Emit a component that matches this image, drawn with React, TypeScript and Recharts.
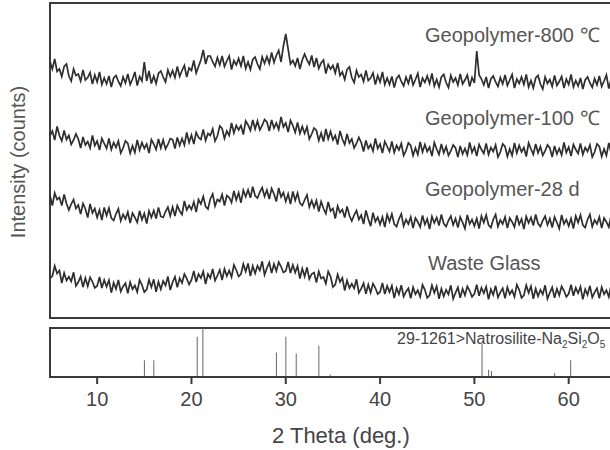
import React from "react";
import { LineChart, Line, BarChart, Bar, XAxis, YAxis, ReferenceArea } from "recharts";

// measured intensity, one value every 0.25 deg from 5 to 65 deg (stacked as plotted)
const geo800 = [
  2565, 2490, 2590, 2465, 2490, 2415, 2515, 2540, 2420, 2370, 2490, 2425, 2440, 2370, 2480, 2380,
  2405, 2455, 2340, 2430, 2360, 2460, 2335, 2400, 2340, 2420, 2310, 2400, 2425, 2365, 2320, 2410,
  2350, 2440, 2335, 2390, 2460, 2325, 2415, 2370, 2560, 2370, 2470, 2345, 2420, 2345, 2445, 2470,
  2410, 2360, 2480, 2415, 2475, 2405, 2515, 2415, 2475, 2525, 2410, 2500, 2475, 2575, 2450, 2515,
  2580, 2680, 2540, 2620, 2620, 2560, 2515, 2605, 2530, 2620, 2515, 2570, 2620, 2485, 2575, 2530,
  2595, 2520, 2620, 2495, 2560, 2485, 2585, 2610, 2540, 2490, 2610, 2545, 2615, 2545, 2655, 2555,
  2625, 2675, 2560, 2720, 2840, 2690, 2540, 2575, 2520, 2600, 2490, 2580, 2640, 2580, 2535, 2625,
  2510, 2600, 2495, 2550, 2580, 2445, 2535, 2490, 2525, 2450, 2550, 2425, 2460, 2385, 2485, 2510,
  2405, 2355, 2475, 2410, 2435, 2365, 2475, 2375, 2400, 2450, 2335, 2425, 2360, 2460, 2335, 2400,
  2335, 2415, 2305, 2395, 2425, 2365, 2320, 2410, 2345, 2435, 2330, 2385, 2445, 2310, 2400, 2355,
  2420, 2345, 2445, 2320, 2385, 2310, 2410, 2435, 2355, 2305, 2425, 2360, 2400, 2330, 2440, 2340,
  2380, 2430, 2315, 2405, 2350, 2670, 2430, 2390, 2330, 2410, 2300, 2390, 2420, 2360, 2315, 2405,
  2340, 2430, 2325, 2380, 2435, 2300, 2390, 2345, 2410, 2335, 2435, 2310, 2375, 2300, 2400, 2425,
  2340, 2290, 2410, 2345, 2385, 2315, 2425, 2325, 2365, 2415, 2300, 2390, 2335, 2435, 2310, 2375,
  2320, 2400, 2290, 2380, 2410, 2350, 2305, 2395, 2330, 2420, 2315, 2370, 2430, 2295, 2385, 2340,
  2405,
];

const geo100 = [
  1825, 1870, 1780, 1915, 1825, 1770, 1875, 1785, 1825, 1735, 1780, 1840, 1790, 1700, 1810, 1730,
  1765, 1700, 1825, 1725, 1770, 1680, 1795, 1745, 1695, 1795, 1685, 1755, 1705, 1770, 1650, 1700,
  1772, 1747, 1647, 1722, 1655, 1780, 1680, 1755, 1695, 1740, 1650, 1785, 1740, 1685, 1790, 1700,
  1780, 1690, 1735, 1795, 1785, 1695, 1805, 1725, 1795, 1730, 1855, 1755, 1830, 1740, 1855, 1805,
  1785, 1885, 1775, 1845, 1825, 1890, 1770, 1820, 1920, 1895, 1795, 1870, 1825, 1950, 1850, 1925,
  1880, 1925, 1835, 1970, 1930, 1875, 1980, 1890, 1970, 1880, 1925, 1985, 1960, 1870, 1980, 1900,
  1950, 1885, 2010, 1910, 1950, 1860, 1975, 1925, 1855, 1955, 1845, 1915, 1845, 1910, 1790, 1840,
  1900, 1875, 1775, 1850, 1765, 1890, 1790, 1865, 1780, 1825, 1735, 1870, 1790, 1735, 1840, 1750,
  1790, 1700, 1745, 1805, 1755, 1665, 1775, 1695, 1735, 1670, 1795, 1695, 1740, 1650, 1765, 1715,
  1665, 1765, 1655, 1725, 1680, 1745, 1625, 1675, 1750, 1725, 1625, 1700, 1635, 1760, 1660, 1735,
  1665, 1710, 1620, 1755, 1690, 1635, 1740, 1650, 1715, 1625, 1670, 1730, 1700, 1610, 1720, 1640,
  1695, 1630, 1755, 1655, 1710, 1620, 1735, 1685, 1645, 1745, 1635, 1705, 1665, 1730, 1610, 1660,
  1740, 1715, 1615, 1690, 1625, 1750, 1650, 1725, 1660, 1705, 1615, 1750, 1690, 1635, 1740, 1650,
  1715, 1625, 1670, 1730, 1700, 1610, 1720, 1640, 1695, 1630, 1755, 1655, 1710, 1620, 1735, 1685,
  1645, 1745, 1635, 1705, 1665, 1730, 1610, 1660, 1740, 1715, 1615, 1690, 1625, 1750, 1650, 1725,
  1660,
];

const geo28d = [
  1225, 1125, 1250, 1185, 1205, 1125, 1235, 1145, 1080, 1140, 1185, 1095, 1130, 1040, 1145, 1090,
  1005, 1140, 1050, 1095, 1005, 1080, 980, 1105, 1025, 1100, 1000, 975, 1042, 1092, 972, 1037,
  990, 1060, 950, 1050, 1007, 957, 1072, 982, 1045, 945, 1070, 1005, 1075, 995, 1105, 1015,
  1005, 1065, 1110, 1020, 1110, 1020, 1125, 1070, 1035, 1170, 1080, 1125, 1085, 1160, 1060, 1185,
  1140, 1215, 1115, 1090, 1190, 1240, 1120, 1185, 1165, 1235, 1125, 1225, 1205, 1155, 1270, 1180,
  1253, 1153, 1278, 1213, 1282, 1202, 1312, 1222, 1200, 1260, 1305, 1215, 1280, 1190, 1295, 1240,
  1165, 1300, 1210, 1255, 1165, 1240, 1140, 1265, 1175, 1250, 1150, 1125, 1180, 1230, 1110, 1175,
  1105, 1175, 1065, 1165, 1095, 1045, 1160, 1070, 1095, 995, 1120, 1055, 1085, 1005, 1115, 1025,
  970, 1030, 1075, 985, 1030, 940, 1075, 990, 918, 1053, 963, 1008, 935, 1010, 910, 1035,
  965, 1040, 940, 915, 990, 1040, 920, 985, 940, 1010, 900, 1000, 960, 910, 1025, 935,
  990, 890, 1015, 950, 1005, 925, 1035, 945, 915, 975, 1020, 930, 995, 905, 1010, 955,
  895, 1030, 940, 985, 920, 995, 895, 1020, 955, 1030, 930, 905, 985, 1035, 915, 980,
  940, 1010, 900, 1000, 960, 910, 1025, 935, 990, 890, 1015, 950, 1005, 925, 1035, 945,
  915, 975, 1020, 930, 995, 905, 1010, 955, 895, 1030, 940, 985, 920, 995, 895, 1020,
  955, 1030, 930, 905, 985, 1035, 915, 980, 940, 1010, 900, 1000, 960, 910, 1025, 935,
  990,
];

const wasteGlass = [
  395, 420, 520, 445, 475, 350, 450, 375, 412, 367, 457, 322, 360, 415, 310, 400,
  317, 407, 362, 302, 320, 410, 300, 380, 313, 378, 253, 353, 290, 380, 265, 315,
  348, 248, 358, 288, 325, 260, 380, 330, 258, 283, 383, 308, 387, 262, 362, 287,
  370, 325, 415, 280, 358, 413, 308, 398, 350, 440, 395, 335, 380, 470, 360, 440,
  400, 465, 340, 440, 400, 490, 375, 425, 480, 380, 490, 420, 475, 410, 530, 480,
  415, 440, 540, 465, 545, 420, 520, 445, 522, 477, 567, 432, 500, 555, 450, 540,
  470, 560, 515, 455, 470, 560, 450, 530, 455, 520, 395, 495, 415, 505, 390, 440,
  455, 355, 465, 395, 410, 345, 465, 415, 310, 335, 435, 360, 400, 275, 375, 300,
  342, 297, 387, 252, 293, 348, 243, 333, 255, 345, 300, 240, 260, 350, 240, 320,
  259, 324, 199, 299, 238, 328, 213, 263, 297, 197, 307, 237, 277, 212, 332, 282,
  202, 227, 327, 252, 317, 192, 292, 217, 282, 237, 327, 192, 252, 307, 202, 292,
  227, 317, 272, 212, 242, 332, 222, 302, 247, 312, 187, 287, 232, 322, 207, 257,
  297, 197, 307, 237, 277, 212, 332, 282, 202, 227, 327, 252, 317, 192, 292, 217,
  282, 237, 327, 192, 252, 307, 202, 292, 227, 317, 272, 212, 242, 332, 222, 302,
  247, 312, 187, 287, 232, 322, 207, 257, 297, 197, 307, 237, 277, 212, 332, 282,
  202,
];

// PDF card 29-1261 Natrosilite, relative intensity
const stickPos = [15.0, 16.0, 20.6, 21.2, 29.0, 30.0, 31.1, 33.5, 34.7, 50.8, 51.5, 51.8, 58.5, 60.2];
const stickInt = [34, 34, 82, 100, 50, 82, 48, 64, 5, 68, 15, 12, 8, 34];

const xTicks = [10, 20, 30, 40, 50, 60];

const twoTheta = geo800.map((_, i) => 5 + i * 0.25);

const data = twoTheta.map((t, i) => ({
  t,
  g800: geo800[i],
  g100: geo100[i],
  g28: geo28d[i],
  wg: wasteGlass[i],
}));

const sticks = stickPos.map((p, i) => ({ p, v: stickInt[i] }));

const font = '"Liberation Sans", Arial, sans-serif';
const frame = "#3a3a3a";
const trace = "#2e2e2e";

const labelStyle: React.CSSProperties = {
  position: "absolute",
  left: 425,
  fontSize: 20,
  lineHeight: "20px",
  color: "#555",
  whiteSpace: "nowrap",
};

const sub: React.CSSProperties = { fontSize: 10, lineHeight: 0 };

export default function App() {
  return (
    <div
      style={{
        position: "fixed",
        left: 0,
        top: 0,
        width: 610,
        height: 450,
        overflow: "hidden",
        background: "#fff",
        fontFamily: font,
      }}
    >
      <div style={{ position: "absolute", left: 0, top: 0 }}>
        <LineChart width={720} height={320} data={data} margin={{ top: 3, right: 57, bottom: 2, left: 50 }}>
          <XAxis dataKey="t" type="number" domain={[5, 70]} hide />
          <YAxis type="number" domain={[0, 3150]} hide />
          <Line dataKey="g800" stroke={trace} strokeWidth={1.7} dot={false} isAnimationActive={false} />
          <Line dataKey="g100" stroke={trace} strokeWidth={1.7} dot={false} isAnimationActive={false} />
          <Line dataKey="g28" stroke={trace} strokeWidth={1.7} dot={false} isAnimationActive={false} />
          <Line dataKey="wg" stroke={trace} strokeWidth={1.7} dot={false} isAnimationActive={false} />
          <ReferenceArea x1={5} x2={70} y1={0} y2={3150} fill="none" stroke={frame} strokeWidth={2} ifOverflow="visible" />
        </LineChart>
      </div>

      <div style={{ position: "absolute", left: 0, top: 320 }}>
        <BarChart width={720} height={130} data={sticks} margin={{ top: 8, right: 57, bottom: 43, left: 50 }}>
          <XAxis
            dataKey="p"
            type="number"
            domain={[5, 70]}
            ticks={xTicks}
            interval={0}
            axisLine={{ stroke: frame, strokeWidth: 2 }}
            tickLine={{ stroke: frame, strokeWidth: 2 }}
            tickSize={7}
            tickMargin={8}
            tick={{ fontSize: 20, fill: "#444", fontFamily: font }}
            height={30}
          />
          <YAxis type="number" domain={[0, 100]} hide />
          <Bar dataKey="v" fill="#666" barSize={1} isAnimationActive={false} />
          <ReferenceArea x1={5} x2={70} y1={0} y2={100} fill="none" stroke={frame} strokeWidth={2} ifOverflow="visible" />
        </BarChart>
      </div>

      <div style={{ ...labelStyle, top: 25 }}>Geopolymer-800 ℃</div>
      <div style={{ ...labelStyle, top: 108 }}>Geopolymer-100 ℃</div>
      <div style={{ ...labelStyle, top: 179 }}>Geopolymer-28 d</div>
      <div style={{ ...labelStyle, top: 253, left: 428 }}>Waste Glass</div>

      <div style={{ ...labelStyle, left: 397, top: 331, fontSize: 16, lineHeight: "16px", color: "#444" }}>
        29-1261&gt;Natrosilite-Na<sub style={sub}>2</sub>Si<sub style={sub}>2</sub>O<sub style={sub}>5</sub>
      </div>

      <div
        style={{
          position: "absolute",
          left: 272,
          top: 425,
          fontSize: 22,
          lineHeight: "22px",
          color: "#444",
          whiteSpace: "nowrap",
        }}
      >
        2 Theta (deg.)
      </div>

      <div
        style={{
          position: "absolute",
          left: 18 - 110,
          top: 162 - 12,
          width: 220,
          height: 24,
          lineHeight: "24px",
          textAlign: "center",
          fontSize: 20,
          color: "#555",
          transform: "rotate(-90deg)",
          whiteSpace: "nowrap",
        }}
      >
        Intensity (counts)
      </div>
    </div>
  );
}
